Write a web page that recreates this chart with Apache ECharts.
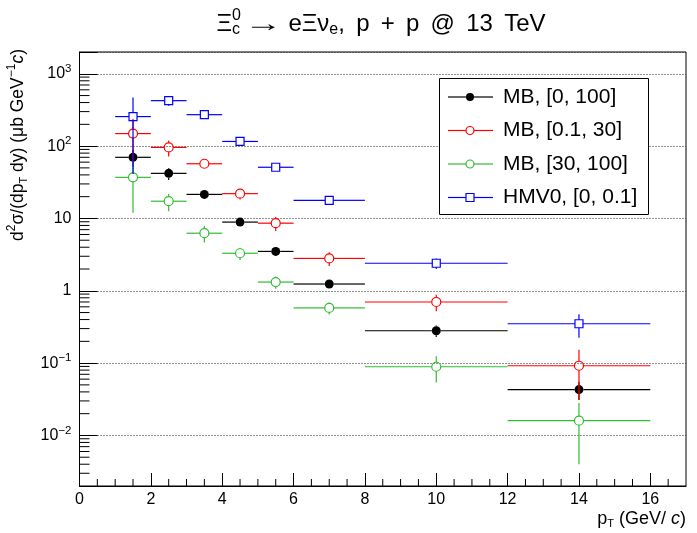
<!DOCTYPE html>
<html><head><meta charset="utf-8">
<script src="https://cdn.jsdelivr.net/npm/echarts@6/dist/echarts.min.js"></script>
<style>html,body{margin:0;padding:0;background:#fff}#c{width:697px;height:533px}</style>
</head><body><div id="c"></div>
<script>
// ---- data ----
const ptCenter = [1.5, 2.5, 3.5, 4.5, 5.5, 7, 10, 14];
const ptLow    = [1, 2, 3, 4, 5, 6, 8, 12];
const ptHigh   = [2, 3, 4, 5, 6, 8, 12, 16];
const mbAll     = [70, 42, 21.5, 8.9, 3.5, 1.24, 0.28, 0.043];
const mbAllErr  = [18, 8, 3, 0.8, 0.4, 0.12, 0.05, 0.012];
const mbLow     = [149, 96, 57, 22, 8.6, 2.8, 0.70, 0.092];
const mbLowErr  = [90, 24, 6, 3.7, 1.9, 0.6, 0.18, 0.061];
const mbHigh    = [37, 17.3, 6.25, 3.3, 1.32, 0.58, 0.089, 0.016];
const mbHighErr = [25, 4.7, 1.6, 0.64, 0.25, 0.11, 0.035, 0.012];
const hmv       = [256, 425, 272, 116, 51, 17.8, 2.4, 0.35];
const hmvErr    = [215, 65, 15, 8, 4, 1.2, 0.4, 0.125];
const seriesNames = ['MB, [0, 100]', 'MB, [0.1, 30]', 'MB, [30, 100]', 'HMV0, [0, 0.1]'];
const yDecades   = [-2, -1, 0, 1, 2, 3];
const yDecBase   = ['10', '10', '1', '10', '10', '10'];
const yDecSup    = ['\u22122', '\u22121', '', '', '2', '3'];

// ---- styling ----
const FONT = '"Liberation Sans", Arial, Helvetica, sans-serif';
const XMIN = 0, XMAX = 17, YMIN = 0.002, YMAX = 2000;
const colors = ['#000000', '#ff0000', '#33bb33', '#0000ff'];
const markers = ['fcircle', 'ocircle', 'ocircle', 'osquare'];
const LW = 1.2;

function rows(vals, errs) {
  return vals.map((v, i) => [ptCenter[i], v, ptLow[i], ptHigh[i], v - errs[i], v + errs[i]]);
}

function markerShape(kind, cx, cy, color, r) {
  if (kind === 'fcircle') return {type: 'circle', shape: {cx, cy, r}, style: {fill: color}};
  if (kind === 'ocircle') return {type: 'circle', shape: {cx, cy, r}, style: {fill: 'none', stroke: color, lineWidth: LW}};
  return {type: 'rect', shape: {x: cx - r, y: cy - r, width: 2 * r, height: 2 * r}, style: {fill: 'none', stroke: color, lineWidth: LW}};
}

function makeRender(color, kind) {
  return function (params, api) {
    const x = api.value(0), y = api.value(1), xl = api.value(2), xh = api.value(3);
    const yl = Math.max(api.value(4), YMIN), yh = Math.min(api.value(5), YMAX);
    const c = api.coord([x, y]);
    const pl = api.coord([xl, y]), ph = api.coord([xh, y]);
    const pb = api.coord([x, yl]), pt = api.coord([x, yh]);
    const r = kind === 'osquare' ? 4 : 4.5;
    const st = {stroke: color, lineWidth: LW};
    const ch = [];
    function seg(x1, y1, x2, y2) {
      if (Math.hypot(x2 - x1, y2 - y1) > 0.5) ch.push({type: 'line', shape: {x1, y1, x2, y2}, style: st});
    }
    seg(pl[0], c[1], c[0] - r, c[1]);
    seg(c[0] + r, c[1], ph[0], c[1]);
    if (pt[1] < c[1] - r) seg(c[0], c[1] - r, c[0], pt[1]);
    if (pb[1] > c[1] + r) seg(c[0], c[1] + r, c[0], pb[1]);
    ch.push(markerShape(kind, c[0], c[1], color, r));
    return {type: 'group', children: ch};
  };
}

// minor tick positions (axis decoration)
const yMinor = [];
for (let e = -3; e <= 3; e++) for (let m = 2; m <= 9; m++) { const v = m * Math.pow(10, e); if (v > YMIN && v < YMAX) yMinor.push([XMIN, v]); }
const xMinor = [];
for (let v = 0.5; v < XMAX; v += 0.5) if (v % 2 !== 0) xMinor.push([v, YMIN]);

const chart = echarts.init(document.getElementById('c'), null, {renderer: 'canvas'});

// ---- text measurement for composed labels ----
const mctx = document.createElement('canvas').getContext('2d');
function tw(text, size, italic) { mctx.font = (italic ? 'italic ' : '') + size + 'px ' + FONT; return mctx.measureText(text).width; }

function composeLine(parts) {
  let x = 0; const els = [];
  parts.forEach(p => {
    if (p.gap) { x += p.gap; return; }
    if (p.stack) {
      let w = 0;
      p.stack.forEach(q => { els.push({x, dy: q.dy, t: q.t, s: p.s, italic: false, sx: 1}); w = Math.max(w, tw(q.t, p.s)); });
      x += w;
    } else {
      const sx = p.sx || 1;
      els.push({x, dy: p.dy || 0, t: p.t, s: p.s, italic: !!p.italic, sx});
      x += tw(p.t, p.s, p.italic) * sx;
    }
  });
  return {els, width: x};
}
function toGraphic(line, ox, oy) {
  return line.els.map(e => ({
    type: 'text', x: ox + e.x, y: oy + e.dy, scaleX: e.sx, silent: true,
    style: {text: e.t, fill: '#000', font: (e.italic ? 'italic ' : '') + e.s + 'px ' + FONT, align: 'left', verticalAlign: 'middle'}
  }));
}

// Title: spread words to the reference's width
const TS = 24, TSS = 16;
const titleHead = [
  {t: '\u039E', s: TS},
  {s: TSS, stack: [{t: '0', dy: -8}, {t: 'c', dy: 6}]},
  {gap: 3}, {t: '\u2192', s: TS, sx: 1.6}, {gap: 6},
  {t: 'e\u039E\u03BD', s: TS},
  {t: 'e', s: TSS, dy: 6},
  {t: ',', s: TS}
];
const titleWords = ['p', '+', 'p', '@', '13', 'TeV'];
const headW = composeLine(titleHead).width;
const wordsW = titleWords.reduce((a, w) => a + tw(w, TS), 0);
const TITLE_W = 329;
const gapW = (TITLE_W - headW - wordsW) / titleWords.length;
const titleParts = titleHead.slice();
titleWords.forEach((w, i) => { titleParts.push({gap: gapW}); titleParts.push({t: w, s: TS}); });
const titleLine = composeLine(titleParts);
const titleEls = toGraphic(titleLine, 381 - titleLine.width / 2, 24);

// X title
const XS = 18;
const xtLine = composeLine([
  {t: 'p', s: XS}, {t: 'T', s: 11, dy: 5}, {t: ' (GeV/ ', s: XS}, {t: 'c', s: XS, italic: true}, {t: ')', s: XS}
]);
const xtEls = toGraphic(xtLine, 686 - xtLine.width, 519);

// Y title (rotated)
const YS = 17.5;
const ytLine = composeLine([
  {t: 'd', s: YS}, {t: '2', s: 12, dy: -6}, {t: '\u03C3/(dp', s: YS}, {t: 'T', s: 11, dy: 6},
  {t: ' dy) (\u03BCb GeV', s: YS}, {t: '\u22121', s: 12, dy: -6}, {t: 'c', s: YS, italic: true}, {t: ')', s: YS}
]);
const ytGroup = {type: 'group', x: 18, y: 49, rotation: Math.PI / 2, children: toGraphic(ytLine, -ytLine.width, 0)};

// Legend
const legEls = [{type: 'rect', shape: {x: 439.5, y: 78.5, width: 209, height: 136}, style: {fill: '#fff', stroke: '#000', lineWidth: 1}, z: 50}];
const legY = [97, 130.5, 164, 197.5];
seriesNames.forEach((n, i) => {
  const y = legY[i];
  const r = 4;
  legEls.push({type: 'line', shape: {x1: 448, y1: y, x2: 470 - r, y2: y}, style: {stroke: colors[i], lineWidth: LW}, z: 51});
  legEls.push({type: 'line', shape: {x1: 470 + r, y1: y, x2: 493, y2: y}, style: {stroke: colors[i], lineWidth: LW}, z: 51});
  const m = markerShape(markers[i], 470, y, colors[i], r); m.z = 51; legEls.push(m);
  legEls.push({type: 'text', x: 503, y: y, z: 51, style: {text: n, fill: '#000', font: '21px ' + FONT, align: 'left', verticalAlign: 'middle'}});
});

const dataSets = [[mbAll, mbAllErr], [mbLow, mbLowErr], [mbHigh, mbHighErr], [hmv, hmvErr]];
const series = dataSets.map((d, i) => ({
  type: 'custom', name: seriesNames[i], coordinateSystem: 'cartesian2d', clip: true, z: 10 + i,
  renderItem: makeRender(colors[i], markers[i]), encode: {x: 0, y: 1}, data: rows(d[0], d[1]), silent: true
}));
series.push({
  type: 'custom', coordinateSystem: 'cartesian2d', clip: false, silent: true, z: 5, data: yMinor, encode: {x: 0, y: 1},
  renderItem: (p, api) => { const c = api.coord([api.value(0), api.value(1)]); return {type: 'line', shape: {x1: c[0], y1: c[1], x2: c[0] + 10, y2: c[1]}, style: {stroke: '#000', lineWidth: 1}}; }
});
series.push({
  type: 'custom', coordinateSystem: 'cartesian2d', clip: false, silent: true, z: 5, data: xMinor, encode: {x: 0, y: 1},
  renderItem: (p, api) => { const c = api.coord([api.value(0), api.value(1)]); return {type: 'line', shape: {x1: c[0], y1: c[1], x2: c[0], y2: c[1] - 7}, style: {stroke: '#000', lineWidth: 1}}; }
});

const yRich = {b: {fontSize: 16, fontFamily: FONT, color: '#000', lineHeight: 22}, s: {fontSize: 11.5, fontFamily: FONT, color: '#000', verticalAlign: 'top', lineHeight: 11}};

chart.setOption({
  animation: false,
  backgroundColor: '#fff',
  grid: {left: 79.5, right: 11, top: 52, bottom: 47, show: true, borderColor: '#000', borderWidth: 1, backgroundColor: 'transparent'},
  xAxis: {
    type: 'value', min: XMIN, max: XMAX, interval: 2,
    axisLine: {show: true, onZero: false, lineStyle: {color: '#000', width: 1}},
    axisTick: {show: true, inside: true, length: 13, lineStyle: {color: '#000', width: 1}},
    axisLabel: {margin: 6, color: '#000', fontSize: 16, fontFamily: FONT, showMaxLabel: false,
      formatter: v => (v % 2 === 0 ? String(v) : '')},
    splitLine: {show: false}
  },
  yAxis: {
    type: 'log', logBase: 10, min: YMIN, max: YMAX,
    axisLine: {show: true, lineStyle: {color: '#000', width: 1}},
    axisTick: {show: true, inside: true, length: 18, lineStyle: {color: '#000', width: 1}},
    splitLine: {show: true, lineStyle: {color: '#222', width: 1, type: [1, 2]}},
    axisLabel: {margin: 8, rich: yRich, formatter: v => {
      const l = Math.log10(v), e = Math.round(l);
      if (Math.abs(l - e) > 1e-6) return '';
      const k = yDecades.indexOf(e); if (k < 0) return '';
      return '{b|' + yDecBase[k] + '}' + (yDecSup[k] ? '{s|' + yDecSup[k] + '}' : '');
    }}
  },
  series,
  graphic: [...titleEls, ...xtEls, ytGroup, ...legEls]
});
</script></body></html>
